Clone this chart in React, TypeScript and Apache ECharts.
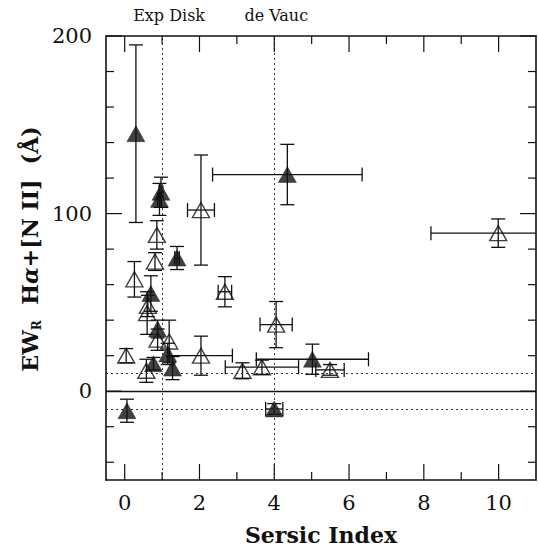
import React, { useEffect, useRef } from "react";
import * as echarts from "echarts";

// Solid triangles: Sersic index, EW and their 1-sigma errors
const filledSersic = [0.3, 0.97, 0.93, 4.35, 1.4, 0.7, 0.88, 1.15, 0.77, 1.28, 5.02, 4.0, 0.06];
const filledEW = [145, 112, 108, 122, 75, 55, 35, 21, 15.5, 13, 18, -10, -11];
const filledSersicErr = [0, 0.05, 0.05, 2.0, 0.06, 0, 0, 0, 0, 0, 1.5, 0.23, 0];
const filledEWErr = [50, 8.5, 9, 17, 6.5, 10, 5, 6, 3.5, 6.5, 8.5, 3, 6.5];

// Open triangles
const openSersic = [0.86, 0.81, 0.26, 0.62, 0.6, 2.68, 2.04, 0.88, 1.19, 0.04, 0.58, 2.04, 3.15, 3.67, 5.49, 4.05, 9.99];
const openEW = [88, 73, 63, 48, 44, 56, 102, 29, 28, 20, 11.5, 20, 11.5, 13.5, 12, 37.5, 89];
const openSersicErr = [0, 0, 0, 0, 0, 0.18, 0.36, 0, 0, 0, 0, 0.84, 0, 0.98, 0.38, 0.43, 1.8];
const openEWErr = [8, 5, 10, 6, 12, 8.5, 31, 6, 12, 4, 6.5, 11, 4.5, 4, 3, 13, 8];

// Axis ticks
const xTickMajor = [0, 2, 4, 6, 8, 10];
const xTickMinor = [1, 3, 5, 7, 9];
const yTickMajor = [0, 100, 200];
const yTickMinor = [-40, -20, 20, 40, 60, 80, 120, 140, 160, 180];

// Reference profiles (vertical dotted lines) and their names
const profileSersic = [1, 4];
const profileNames = ["Exp Disk", "de Vauc"];
// Detection limits (horizontal dotted lines)
const ewLimits = [10, -10];

const FONT = "DejaVu Serif";
const INK = "#111";

const X_MIN = -0.5;
const X_MAX = 11;
const Y_MIN = -50;
const Y_MAX = 200;

const toRows = (xs: number[], ys: number[], xe: number[], ye: number[]) =>
  xs.map((x, i) => [x, ys[i], xe[i], ye[i]]);

const errorBarItem = (_params: any, api: any) => {
  const x = api.value(0);
  const y = api.value(1);
  const xe = api.value(2);
  const ye = api.value(3);
  const c = api.coord([x, y]);
  const cap = 7;
  const style = { stroke: INK, lineWidth: 1.3, fill: "none" };
  const children: any[] = [];
  if (ye > 0) {
    const top = api.coord([x, y + ye])[1];
    const bot = api.coord([x, y - ye])[1];
    children.push({ type: "line", shape: { x1: c[0], y1: top, x2: c[0], y2: bot }, style });
    children.push({ type: "line", shape: { x1: c[0] - cap, y1: top, x2: c[0] + cap, y2: top }, style });
    children.push({ type: "line", shape: { x1: c[0] - cap, y1: bot, x2: c[0] + cap, y2: bot }, style });
  }
  if (xe > 0) {
    const l = api.coord([x - xe, y])[0];
    const r = api.coord([x + xe, y])[0];
    children.push({ type: "line", shape: { x1: l, y1: c[1], x2: r, y2: c[1] }, style });
    children.push({ type: "line", shape: { x1: l, y1: c[1] - cap, x2: l, y2: c[1] + cap }, style });
    children.push({ type: "line", shape: { x1: r, y1: c[1] - cap, x2: r, y2: c[1] + cap }, style });
  }
  return { type: "group", children };
};

const frameLine = { show: true, onZero: false, lineStyle: { color: INK, width: 1.6 } };

const yTitle = {
  type: "text",
  id: "y-title",
  x: 30,
  y: 249,
  rotation: Math.PI / 2,
  silent: true,
  style: {
    text: "{b|EW}{s|R}{b|  H}{i|α}{b|+[N II]  (Å)}",
    align: "center",
    verticalAlign: "middle",
    rich: {
      b: { fontFamily: FONT, fontWeight: "bold", fontSize: 22, fill: INK, lineHeight: 26 },
      i: { fontFamily: FONT, fontWeight: "bold", fontStyle: "italic", fontSize: 22, fill: INK, lineHeight: 26 },
      s: { fontFamily: FONT, fontWeight: "bold", fontSize: 12, fill: INK, lineHeight: 26, verticalAlign: "bottom", padding: [8, 0, 0, 0] },
    },
  },
};

const option: any = {
  animation: false,
  backgroundColor: "#fff",
  grid: { left: 106, right: 3, top: 36, bottom: 68, containLabel: false },
  xAxis: [
    {
      type: "value",
      position: "bottom",
      min: X_MIN,
      max: X_MAX,
      splitLine: { show: false },
      axisLine: frameLine,
      axisTick: { show: false },
      axisLabel: { customValues: xTickMajor, fontFamily: FONT, fontSize: 21, color: INK, margin: 12 },
      name: "Sersic Index",
      nameLocation: "middle",
      nameGap: 44,
      nameTextStyle: { fontFamily: FONT, fontWeight: "bold", fontSize: 22, color: INK },
    },
    {
      type: "value",
      position: "top",
      min: X_MIN,
      max: X_MAX,
      splitLine: { show: false },
      axisLine: frameLine,
      axisTick: { show: false },
      axisLabel: {
        customValues: profileSersic,
        formatter: (v: number) => {
          const i = profileSersic.indexOf(v);
          return i === 0 ? `{a|${profileNames[i]}}` : `{b|${profileNames[i]}}`;
        },
        margin: 13,
        rich: {
          a: { fontFamily: FONT, fontSize: 16, color: INK, padding: [0, 0, 0, 14] },
          b: { fontFamily: FONT, fontSize: 16, color: INK, padding: [0, 0, 0, 4] },
        },
      },
    },
  ],
  yAxis: [
    {
      type: "value",
      position: "left",
      min: Y_MIN,
      max: Y_MAX,
      splitLine: { show: false },
      axisLine: frameLine,
      axisTick: { show: false },
      axisLabel: { customValues: yTickMajor, fontFamily: FONT, fontSize: 21, color: INK, margin: 14 },
    },
    {
      type: "value",
      position: "right",
      min: Y_MIN,
      max: Y_MAX,
      splitLine: { show: false },
      axisLine: frameLine,
      axisTick: { show: false },
      axisLabel: { show: false },
    },
  ],
  graphic: [yTitle],
  series: [
    {
      type: "custom",
      name: "errors-open",
      renderItem: errorBarItem,
      clip: true,
      silent: true,
      encode: { x: 0, y: 1 },
      data: toRows(openSersic, openEW, openSersicErr, openEWErr),
      z: 2,
    },
    {
      type: "custom",
      name: "errors-filled",
      renderItem: errorBarItem,
      clip: true,
      silent: true,
      encode: { x: 0, y: 1 },
      data: toRows(filledSersic, filledEW, filledSersicErr, filledEWErr),
      z: 2,
    },
    {
      type: "scatter",
      name: "open",
      symbol: "triangle",
      symbolSize: [17, 15],
      itemStyle: { color: "rgba(255,255,255,0)", borderColor: INK, borderWidth: 1.4 },
      data: openSersic.map((x, i) => [x, openEW[i]]),
      z: 3,
      markLine: {
        silent: true,
        symbol: "none",
        label: { show: false },
        data: [
          ...profileSersic.map((v) => ({ xAxis: v, lineStyle: { type: [2, 3], color: "#333", width: 1 } })),
          ...ewLimits.map((v) => ({ yAxis: v, lineStyle: { type: [2, 3], color: "#333", width: 1 } })),
          { yAxis: 0, lineStyle: { type: "solid", color: INK, width: 1.4 } },
        ],
      },
    },
    {
      type: "scatter",
      name: "filled",
      symbol: "triangle",
      symbolSize: [18, 16],
      itemStyle: { color: INK, borderColor: INK, borderWidth: 0.5 },
      data: filledSersic.map((x, i) => [x, filledEW[i]]),
      z: 4,
    },
  ],
};

// Inward frame ticks on all four sides, placed through the grid's own scales
const buildTicks = (chart: echarts.ECharts) => {
  const toPx = (x: number, y: number) =>
    chart.convertToPixel({ gridIndex: 0 }, [x, y]) as number[];
  const [left, bottom] = toPx(X_MIN, Y_MIN);
  const [right, top] = toPx(X_MAX, Y_MAX);
  const style = { stroke: INK, lineWidth: 1.2 };
  const out: any[] = [];
  const xTick = (v: number, len: number) => {
    const px = toPx(v, 0)[0];
    out.push({ type: "line", silent: true, z: 50, shape: { x1: px, y1: bottom, x2: px, y2: bottom - len }, style });
    out.push({ type: "line", silent: true, z: 50, shape: { x1: px, y1: top, x2: px, y2: top + len }, style });
  };
  const yTick = (v: number, len: number) => {
    const py = toPx(0, v)[1];
    out.push({ type: "line", silent: true, z: 50, shape: { x1: left, y1: py, x2: left + len, y2: py }, style });
    out.push({ type: "line", silent: true, z: 50, shape: { x1: right, y1: py, x2: right - len, y2: py }, style });
  };
  xTickMajor.forEach((v) => xTick(v, 16));
  xTickMinor.forEach((v) => xTick(v, 8));
  yTickMajor.forEach((v) => yTick(v, 16));
  yTickMinor.forEach((v) => yTick(v, 8));
  return out;
};

export default function App() {
  const ref = useRef<HTMLDivElement>(null);
  useEffect(() => {
    document.body.style.margin = "0";
    const chart = echarts.init(ref.current!, null, { renderer: "svg" });
    chart.setOption(option);
    chart.setOption({ graphic: [yTitle, ...buildTicks(chart)] });
    return () => chart.dispose();
  }, []);
  return <div ref={ref} style={{ width: 539, height: 551 }} />;
}
